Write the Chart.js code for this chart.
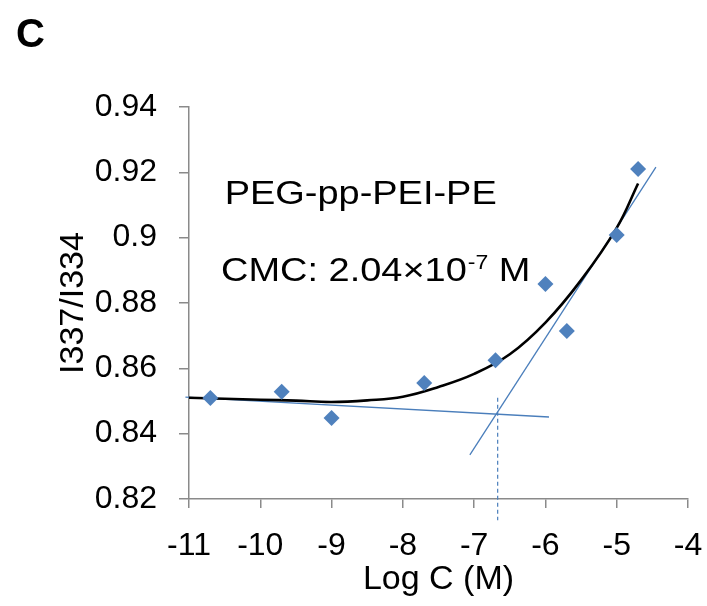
<!DOCTYPE html>
<html>
<head>
<meta charset="utf-8">
<script src="https://cdn.jsdelivr.net/npm/chart.js@4.4.0/dist/chart.umd.min.js"></script>
<style>
  html, body { margin: 0; padding: 0; background: #fff; }
  #wrap { width: 707px; height: 606px; position: relative; }
</style>
</head>
<body>
<div id="wrap"><canvas id="cmc-canvas" width="707" height="606"></canvas></div>
<script>
// measured points (log concentration vs I337/I334)
const logC = [-10.7, -9.7, -9.0, -7.7, -6.7, -6.0, -5.7, -5.0, -4.7];
const ratio = [0.8509, 0.8528, 0.8448, 0.8555, 0.8625, 0.8858, 0.8714, 0.9008, 0.921];

// black trend curve
const fitX = [-11, -10.5, -10, -9.5, -9, -8.5, -8, -7.5, -7, -6.5, -6, -5.5, -5, -4.7];
const fitY = [0.851, 0.8507, 0.8504, 0.8501, 0.8497, 0.8502, 0.8513, 0.8543, 0.8583, 0.8643, 0.874, 0.887, 0.903, 0.9166];

// the two thin tangent lines and the dashed CMC marker
const baseX = [-11.05, -5.95];
const baseY = [0.8512, 0.8451];
const riseX = [-7.06, -4.45];
const riseY = [0.8335, 0.9216];
const cmcX = [-6.67, -6.67];
const cmcY = [0.851, 0.8135];

const xTicks = [-11, -10, -9, -8, -7, -6, -5, -4];
const yTicks = [0.82, 0.84, 0.86, 0.88, 0.9, 0.92, 0.94];

const blue = '#4f81bd';
const lineBlue = '#4a7ebb';
const axisGrey = '#8a8a8a';
const fontFam = '"Liberation Sans", Arial, sans-serif';

function pts(xs, ys) {
  return xs.map((x, i) => ({ x: x, y: ys[i] }));
}

// text labels drawn on top of the plot (the source text is a bit wider than Arial)
const labelsPlugin = {
  id: 'panelText',
  afterDraw(chart) {
    const ctx = chart.ctx;
    const sx = chart.scales.x;
    const sy = chart.scales.y;
    const stretch = 1.15;
    ctx.save();
    ctx.fillStyle = '#000';
    ctx.textBaseline = 'alphabetic';
    ctx.textAlign = 'left';

    ctx.font = 'bold 40px ' + fontFam;
    ctx.fillText('C', 16, 47);

    function put(txt, x, y) {
      ctx.save();
      ctx.translate(x, y);
      ctx.scale(stretch, 1);
      ctx.fillText(txt, 0, 0);
      ctx.restore();
      return ctx.measureText(txt).width * stretch;
    }

    ctx.font = '33px ' + fontFam;
    put('PEG-pp-PEI-PE', sx.getPixelForValue(-10.5), sy.getPixelForValue(0.9104));

    const y2 = sy.getPixelForValue(0.8866);
    let x = sx.getPixelForValue(-10.55);
    x += put('CMC: 2.04\u00d710', x, y2);
    ctx.font = '20px ' + fontFam;
    x += put('-7', x + 1, y2 - 12) + 1;
    ctx.font = '33px ' + fontFam;
    put(' M', x, y2);
    ctx.restore();
  }
};

const canvasOne = document.getElementById('cmc-canvas').getContext('2d');

const config = {
  type: 'scatter',
  data: {
    datasets: [
      {
        label: 'base',
        data: pts(baseX, baseY),
        showLine: true,
        borderColor: lineBlue,
        borderWidth: 1.3,
        pointRadius: 0,
        clip: false,
        order: 3
      },
      {
        label: 'rise',
        data: pts(riseX, riseY),
        showLine: true,
        borderColor: lineBlue,
        borderWidth: 1.3,
        pointRadius: 0,
        clip: false,
        order: 3
      },
      {
        label: 'cmc',
        data: pts(cmcX, cmcY),
        showLine: true,
        borderColor: lineBlue,
        borderWidth: 1.2,
        borderDash: [4, 3],
        pointRadius: 0,
        clip: false,
        order: 3
      },
      {
        label: 'fit',
        data: pts(fitX, fitY),
        showLine: true,
        borderColor: '#000',
        borderWidth: 2.6,
        tension: 0.4,
        pointRadius: 0,
        order: 2
      },
      {
        label: 'I337/I334',
        data: pts(logC, ratio),
        showLine: false,
        pointStyle: 'rectRot',
        pointRadius: 8,
        pointBackgroundColor: blue,
        pointBorderColor: blue,
        pointBorderWidth: 0,
        order: 1
      }
    ]
  },
  plugins: [labelsPlugin],
  options: {
    responsive: false,
    animation: false,
    events: [],
    layout: { padding: { left: 49, top: 107, right: 0, bottom: 0 } },
    plugins: {
      legend: { display: false },
      tooltip: { enabled: false }
    },
    scales: {
      x: {
        type: 'linear',
        min: -11,
        max: -4,
        afterBuildTicks: (scale) => { scale.ticks = xTicks.map((v) => ({ value: v })); },
        afterFit: (scale) => {
          scale.height = 107;
          // keep the plot's right edge where the source puts it
          scale.paddingRight = 19;
          scale.paddingLeft = 0;
        },
        border: { display: true, color: axisGrey, width: 1.5 },
        grid: { drawOnChartArea: false, drawTicks: true, tickLength: 9, color: axisGrey, lineWidth: 1.5 },
        ticks: {
          padding: 19,
          color: '#000',
          font: { family: fontFam, size: 32 },
          callback: (v) => String(v)
        },
        title: {
          display: true,
          text: 'Log C (M)',
          color: '#000',
          font: { family: fontFam, size: 34 },
          padding: { top: 0, bottom: 6 }
        }
      },
      y: {
        type: 'linear',
        min: 0.82,
        max: 0.94,
        afterBuildTicks: (scale) => { scale.ticks = yTicks.map((v) => ({ value: v })); },
        afterFit: (scale) => { scale.width = 140; },
        border: { display: true, color: axisGrey, width: 1.5 },
        grid: { drawOnChartArea: false, drawTicks: true, tickLength: 10, color: axisGrey, lineWidth: 1.5 },
        ticks: {
          padding: 22,
          color: '#000',
          font: { family: fontFam, size: 32 },
          callback: (v) => String(Number(v.toFixed(2)))
        },
        title: {
          display: true,
          text: 'I337/I334',
          color: '#000',
          font: { family: fontFam, size: 34 },
          padding: { top: 4, bottom: 4 }
        }
      }
    }
  }
};

const cmcChart = new Chart(canvasOne, config);
</script>
</body>
</html>
